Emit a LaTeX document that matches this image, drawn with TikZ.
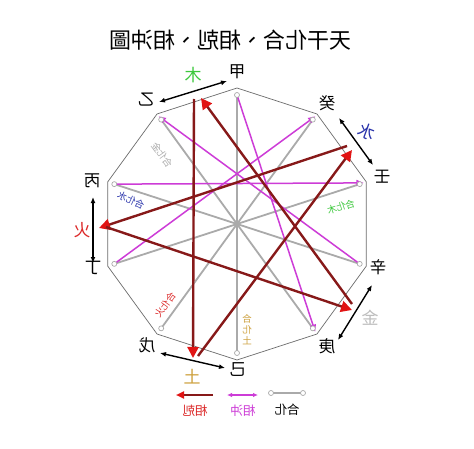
\documentclass[tikz,border=0pt]{standalone}
\usepackage{fontspec}
\newfontfamily\cjk{Noto Sans CJK TC}
\usetikzlibrary{arrows.meta,calc}
\definecolor{kered}{RGB}{135,25,25}
\definecolor{kehead}{RGB}{225,20,20}
\definecolor{chongc}{RGB}{205,60,215}
\definecolor{hec}{RGB}{170,170,170}
\definecolor{woodc}{RGB}{60,200,60}
\definecolor{waterc}{RGB}{40,50,170}
\definecolor{firec}{RGB}{220,40,40}
\definecolor{metalc}{RGB}{190,190,190}
\definecolor{earthc}{RGB}{205,160,60}
\begin{document}
\begin{tikzpicture}[x=1pt,y=1pt,
  poly/.style={draw=gray!85!black, line width=0.7pt},
  hehua/.style={draw=hec, line width=1.8pt},
  chong/.style={draw=chongc, line width=1.5pt},
  chongtip/.style={-{Triangle[open,length=7pt,width=6pt,line width=1.2pt]}},
  ke/.style={draw=kered, line width=2.4pt, -{Triangle[length=11pt,width=11pt,color=kehead]}},
  stem/.style={font=\cjk\fontsize{16.5}{16.5}\selectfont, text=black, inner sep=0pt},
  elem/.style={font=\cjk\fontsize{17}{17}\selectfont, inner sep=0pt},
  small/.style={font=\cjk\fontsize{9.5}{10}\selectfont, inner sep=0pt},
  legtext/.style={font=\cjk\fontsize{12.5}{12.5}\selectfont, inner sep=0pt},
  mk/.style={circle, draw=hec, fill=white, line width=0.7pt, inner sep=0pt, minimum size=5pt},
  dbl/.style={draw=black, line width=1.4pt, {Latex[length=6pt,width=5pt]}-{Latex[length=6pt,width=5pt]}},
]
\useasboundingbox (0,0) rectangle (474,448);
\fill[white] (0,0) rectangle (474,448);
\coordinate (O) at (237,224);
\foreach \n/\a in {jia/90,yi/126,bing/162,ding/198,wu/234,ji/270,geng/306,xin/342,ren/18,gui/54}{
  \coordinate (v\n) at ($(O)+(\a:136)$);
  \coordinate (m\n) at ($(O)+(\a:129)$);
  \coordinate (c\n) at ($(O)+(\a:133)$);
}
% title
\node[font=\cjk\fontsize{22}{22}\selectfont, inner sep=0pt] (title) at (230,408) {\reflectbox{天干化合、相剋、相沖圖}};
% decagon
\draw[poly] (vjia) -- (vyi) -- (vbing) -- (vding) -- (vwu) -- (vji) -- (vgeng) -- (vxin) -- (vren) -- (vgui) -- cycle;
% hehua (gray)
\draw[hehua] (mjia) -- (mji);
\draw[hehua] (myi) -- (mgeng);
\draw[hehua] (mbing) -- (mxin);
\draw[hehua] (mding) -- (mren);
\draw[hehua] (mwu) -- (mgui);
% chong (magenta)
\draw[chong, chongtip] (mjia) -- (cgeng);
\draw[chong, chongtip] (mxin) -- (cyi);
\draw[chong, chongtip] (mbing) -- (cren);
\draw[chong, chongtip] (mding) -- (cgui);
% markers
\foreach \n in {jia,yi,bing,ding,wu,ji,geng,xin,ren,gui}{\node[mk] (k\n) at (m\n) {};}
% ke (dark red)
\coordinate (Emu) at (201,350);
\coordinate (Emus) at (194,349);
\coordinate (Etu) at (193,90);
\coordinate (Etus) at (198,92);
\coordinate (Eshui) at (352,298);
\coordinate (Eshuis) at (347,302);
\coordinate (Ehuo) at (99,220);
\coordinate (Ehuos) at (106,221);
\coordinate (Ejin) at (352,138);
\coordinate (Ejins) at (352,144);
\draw[ke] (Emus) -- (Etu);
\draw[ke] (Etus) -- (Eshui);
\draw[ke] (Eshuis) -- (Ehuo);
\draw[ke] (Ehuos) -- (Ejin);
\draw[ke] (Ejins) -- (Emu);
% stem labels
\node[stem] (ljia) at (237,376) {\reflectbox{甲}};
\node[stem] (lyi) at (146,348) {\reflectbox{乙}};
\node[stem] (lbing) at (92,267) {\reflectbox{丙}};
\node[stem] (lding) at (93,180) {\reflectbox{丁}};
\node[stem] (lwu) at (147,103) {\reflectbox{戊}};
\node[stem] (lji) at (238,78) {\reflectbox{己}};
\node[stem] (lgeng) at (327,102) {\reflectbox{庚}};
\node[stem] (lxin) at (378,181) {\reflectbox{辛}};
\node[stem] (lren) at (382,271) {\reflectbox{壬}};
\node[stem] (lgui) at (327,345) {\reflectbox{癸}};
% black double arrows
\coordinate (a1) at (159,346); \coordinate (a2) at (227,367);
\coordinate (b1) at (339,330); \coordinate (b2) at (373,283);
\coordinate (c1) at (93,251);  \coordinate (c2) at (93,185);
\coordinate (d1) at (338,108); \coordinate (d2) at (372,163);
\coordinate (e1) at (160,95);  \coordinate (e2) at (225,80);
\draw[dbl] (a1) -- (a2);
\draw[dbl] (b1) -- (b2);
\draw[dbl] (c1) -- (c2);
\draw[dbl] (d1) -- (d2);
\draw[dbl] (e1) -- (e2);
% element labels
\node[elem, text=woodc] (nmu) at (193,373) {\reflectbox{木}};
\node[elem, text=waterc, rotate=-20] (nshui) at (367,316) {\reflectbox{水}};
\node[elem, text=firec] (nhuo) at (82,218) {\reflectbox{火}};
\node[elem, text=metalc] (njin) at (370,130) {\reflectbox{金}};
\node[elem, text=earthc] (ntu) at (192,71) {\reflectbox{土}};
% small labels
\node[small, text=hec, rotate=-54] (hj) at (162,293) {\reflectbox{合化金}};
\node[small, text=waterc, rotate=-25] (hs) at (131,248) {\reflectbox{合化水}};
\node[small, text=woodc, rotate=18] (hm) at (341,241) {\reflectbox{合化木}};
\node[small, text=firec, rotate=54] (hh) at (165,143) {\reflectbox{合化火}};
\node[small, text=earthc, align=center] (ht) at (247,118) {\reflectbox{合}\\[1pt]\reflectbox{化}\\[1pt]\reflectbox{土}};
% legend
\coordinate (r1) at (213,53); \coordinate (r2) at (176,53);
\draw[draw=kered, line width=2pt, -{Triangle[length=8pt,width=7pt,color=kehead]}] (r1) -- (r2);
\node[legtext, text=firec] (lt1) at (195,37) {\reflectbox{相剋}};
\coordinate (p1) at (227,53); \coordinate (p2) at (258,53);
\draw[chong, {Latex[length=5pt,width=4.5pt]}-{Latex[length=5pt,width=4.5pt]}] (p1) -- (p2);
\node[legtext, text=chongc] (lt2) at (243,37) {\reflectbox{相沖}};
\coordinate (g1) at (271,55); \coordinate (g2) at (303,55);
\draw[hehua, line width=1.4pt] (g1) -- (g2);
\node[mk] (gk1) at (g1) {};
\node[mk] (gk2) at (g2) {};
\node[legtext, text=black] (lt3) at (287,38) {\reflectbox{合化}};
\end{tikzpicture}
\end{document}
